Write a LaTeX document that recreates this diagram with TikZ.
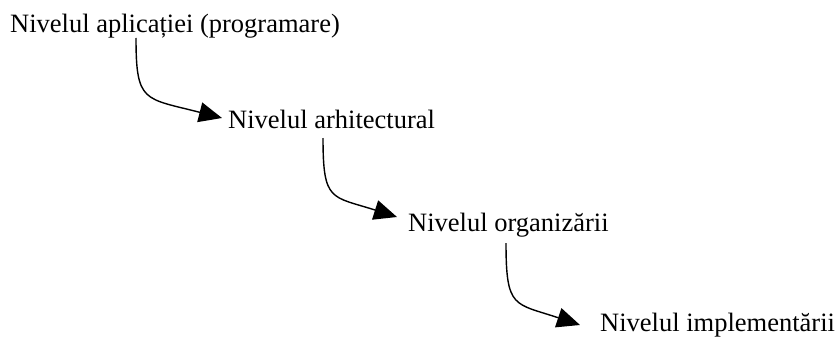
\documentclass[tikz,border=0pt]{standalone}
\usepackage{fontspec}
\setmainfont{Liberation Serif}
\usetikzlibrary{arrows.meta,calc}
\begin{document}
\begin{tikzpicture}[x=1pt,y=-1pt,
  level/.style={anchor=base west,inner sep=0pt,font=\fontsize{26.5}{30}\selectfont},
  flow/.style={line width=1.4pt,-{Triangle[length=23pt,width=20pt]}}]
\useasboundingbox (0,0) rectangle (837,337);
% the four levels, top to bottom
\node[level] (app)  at (10,33)   {Nivelul aplicației (programare)};
\node[level] (arch) at (228,128) {Nivelul arhitectural};
\node[level] (org)  at (408,231) {Nivelul organizării};
\node[level] (impl) at (600,331) {Nivelul implementării};
% start points under each label, tips in front of the next one
\coordinate (s1) at ($(app.base west)+(126,5)$);
\coordinate (e1) at ($(arch.base west)+(-6,-10)$);
\coordinate (s2) at ($(arch.base west)+(95,10)$);
\coordinate (e2) at ($(org.base west)+(-11,-14)$);
\coordinate (s3) at ($(org.base west)+(98,12)$);
\coordinate (e3) at ($(impl.base west)+(-20,-6)$);
% hooked connectors
\draw[flow] (s1) .. controls ($(s1)+(0,65)$) and ($(s1)+(8,60)$) .. (e1);
\draw[flow] (s2) .. controls ($(s2)+(0,64)$) and ($(s2)+(8,58)$) .. (e2);
\draw[flow] (s3) .. controls ($(s3)+(0,66)$) and ($(s3)+(8,60)$) .. (e3);
\end{tikzpicture}
\end{document}
